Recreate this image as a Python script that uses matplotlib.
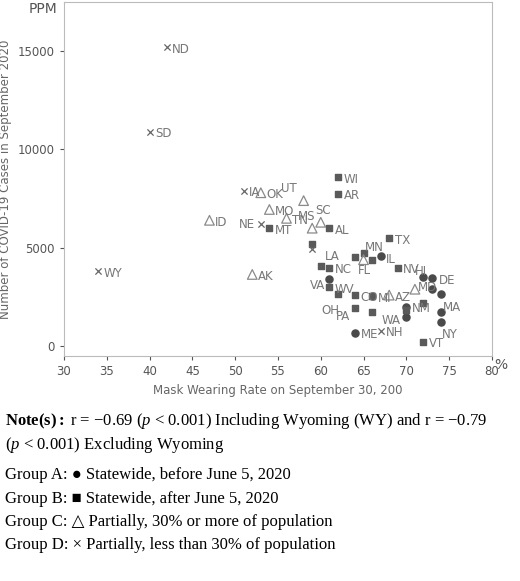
import matplotlib.pyplot as plt

# state, mask rate (%), cases (ppm), group, label offset (dx, dy in points)
states = ['ND', 'SD', 'WY', 'IA', 'OK', 'UT', 'MO', 'TN', 'ID', 'NE', 'MT', 'SC', 'MS', '', '',
          'AL', 'WI', 'AR', 'TX', 'LA', 'NC', '', 'MN', 'FL', '', 'IL', 'NV', 'HI', 'DE', '', 'MD',
          'MA', '', '', 'NY', 'NM', '', 'WA', 'ME', 'NH', 'VT', 'AK', 'VA', 'WV', 'OH', 'CO', 'MI',
          'AZ', 'PA', '']
rate = [42, 40, 34, 51, 53, 58, 54, 56, 47, 53, 54, 60, 59, 59, 59,
        61, 62, 62, 68, 60, 61, 64, 65, 65, 66, 67, 69, 72, 73, 73, 71,
        74, 72, 74, 74, 70, 70, 70, 64, 67, 72, 52, 61, 61, 62, 64, 66,
        68, 64, 66]
cases = [15200, 10900, 3800, 7900, 7800, 7400, 6950, 6500, 6400, 6200, 6000, 6300, 6000, 5200, 4950,
         6000, 8600, 7750, 5500, 4100, 4000, 4550, 4750, 4400, 4400, 4600, 4000, 3500, 3450, 2900, 2900,
         2650, 2200, 1750, 1250, 2000, 1850, 1500, 700, 800, 230, 3650, 3400, 3000, 2650, 2600, 2550,
         2600, 1950, 1750]
group = ['D', 'D', 'D', 'D', 'C', 'C', 'C', 'C', 'C', 'D', 'B', 'C', 'C', 'B', 'D',
         'B', 'B', 'B', 'B', 'B', 'B', 'B', 'B', 'C', 'B', 'A', 'B', 'A', 'A', 'A', 'C',
         'A', 'B', 'A', 'A', 'A', 'B', 'A', 'A', 'D', 'B', 'C', 'A', 'B', 'B', 'B', 'B',
         'C', 'B', 'B']
offsets = {'UT': (-16, 6), 'NE': (-16, -3), 'SC': (-4, 6), 'MS': (-10, 6), 'LA': (3, 4),
           'FL': (-4, -10), 'MN': (1, 1), 'HI': (-6, 2), 'MA': (2, -12), 'NY': (1, -12),
           'WA': (-18, -5), 'VA': (-14, -7), 'OH': (-12, -14), 'PA': (-14, -9), 'MD': (2, -1),
           'IL': (4, -5), 'NV': (4, -4), 'DE': (5, -4), 'WV': (4, -4)}

styles = {'A': dict(marker='o', s=26, c='#4a4a4a'),
          'B': dict(marker='s', s=20, c='#5a5a5a'),
          'C': dict(marker='^', s=48, facecolors='none', edgecolors='#8a8a8a', linewidths=0.9),
          'D': dict(marker='x', s=20, c='#666666', linewidths=0.9)}

serif = 'Liberation Serif'
plt.rcParams['mathtext.fontset'] = 'custom'
plt.rcParams['mathtext.rm'] = serif
plt.rcParams['mathtext.it'] = serif + ':italic'
plt.rcParams['mathtext.bf'] = serif + ':bold'

fig = plt.figure(figsize=(5.2, 5.81), dpi=100)
ax = fig.add_axes([0.123, 0.387, 0.823, 0.61])

for g, st in styles.items():
    xs = [r for r, gg in zip(rate, group) if gg == g]
    ys = [c for c, gg in zip(cases, group) if gg == g]
    ax.scatter(xs, ys, zorder=3, **st)

for s, x, y in zip(states, rate, cases):
    if s:
        dx, dy = offsets.get(s, (4, -4))
        ax.annotate(s, (x, y), xytext=(dx, dy), textcoords='offset points',
                    fontsize=8.5, color='#777777')

ax.set_xlim(30, 80)
ax.set_ylim(-500, 17500)
ax.set_xticks(range(30, 81, 5))
ax.set_yticks([0, 5000, 10000, 15000])
for sp in ax.spines.values():
    sp.set_color('#bbbbbb')
ax.tick_params(colors='#555555', labelsize=8.5, length=3)
ax.set_xlabel('Mask Wearing Rate on September 30, 200', fontsize=8.5, color='#666666')
ax.set_ylabel('Number of COVID-19 Cases in September 2020', fontsize=8.5, color='#666666')
fig.text(0.055, 0.985, 'PPM', fontsize=10, color='#555555', va='center')
fig.text(0.95, 0.372, '%', fontsize=10, color='#555555', va='center')

fig.text(0.01, 0.268, r'$\bf{Note(s):}$ r = −0.69 ($\it{p}$ < 0.001) Including Wyoming (WY) and r = −0.79',
         family=serif, fontsize=12)
fig.text(0.01, 0.228, r'($\it{p}$ < 0.001) Excluding Wyoming', family=serif, fontsize=12)
lines = ['Group A: ● Statewide, before June 5, 2020',
         'Group B: ■ Statewide, after June 5, 2020',
         'Group C: △ Partially, 30% or more of population',
         'Group D: × Partially, less than 30% of population']
for i, t in enumerate(lines):
    fig.text(0.01, 0.175 - i * 0.04, t, family=[serif, 'DejaVu Sans'], fontsize=12)

fig.savefig('out.png', dpi=100)
